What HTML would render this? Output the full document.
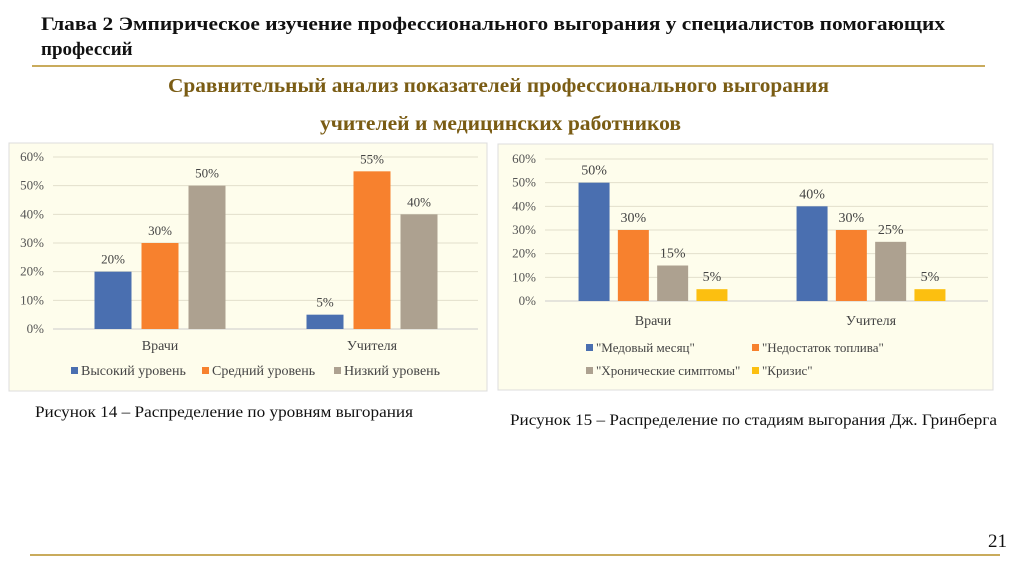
<!DOCTYPE html>
<html><head><meta charset="utf-8"><style>
html,body{margin:0;padding:0;background:#fff;}
svg{display:block;font-family:"Liberation Serif",serif;}
</style></head><body>
<svg id="s" width="1024" height="574" viewBox="0 0 1024 574" xmlns="http://www.w3.org/2000/svg">
<text x="41" y="30" font-size="19" font-weight="bold" fill="#111" textLength="904" lengthAdjust="spacingAndGlyphs">Глава 2 Эмпирическое изучение профессионального выгорания у специалистов помогающих</text>
<text x="41" y="55" font-size="19" font-weight="bold" fill="#111">профессий</text>
<rect x="32" y="65" width="953" height="2" fill="#c9ab5c"/>
<text x="168" y="92" font-size="20" font-weight="bold" fill="#7a5c14" textLength="661" lengthAdjust="spacingAndGlyphs">Сравнительный анализ показателей профессионального выгорания</text>
<text x="320" y="130" font-size="20" font-weight="bold" fill="#7a5c14" textLength="361" lengthAdjust="spacingAndGlyphs">учителей и медицинских работников</text>
<rect x="9" y="143" width="478" height="248" fill="#fefdec" stroke="#ddd"/>
<rect x="498" y="144" width="495" height="246" fill="#fefdec" stroke="#ddd"/>
<g id="c1"></g><g id="c2"></g>
<text x="35" y="417" font-size="16" fill="#111" textLength="378" lengthAdjust="spacingAndGlyphs">Рисунок 14 – Распределение по уровням выгорания</text>
<text x="510" y="425" font-size="16" fill="#111" textLength="487" lengthAdjust="spacingAndGlyphs">Рисунок 15 – Распределение по стадиям выгорания Дж. Гринберга</text>
<text x="1007" y="547" font-size="19" fill="#111" text-anchor="end">21</text>
<rect x="30" y="554" width="970" height="2" fill="#c9ab5c"/>
</svg>
<script>
const ticks = [0,10,20,30,40,50,60];
const cats1 = ["Врачи","Учителя"];
const series1Names = ["Высокий уровень","Средний уровень","Низкий уровень"];
const high1 = [20,5];
const mid1 = [30,55];
const low1 = [50,40];
const cats2 = ["Врачи","Учителя"];
const series2Names = ["\"Медовый месяц\"","\"Недостаток топлива\"","\"Хронические симптомы\"","\"Кризис\""];
const honey2 = [50,40];
const fuel2 = [30,30];
const chronic2 = [15,25];
const crisis2 = [5,5];
const colors = ["#4a6fb0","#f7812e","#ada190","#fcbf10"];
const NS="http://www.w3.org/2000/svg";
function mk(p,tag,a,txt){const e=document.createElementNS(NS,tag);for(const k in a)e.setAttribute(k,a[k]);if(txt!=null)e.textContent=txt;p.appendChild(e);return e;}
function chart(g,cfg,cats,series,names,pref){
  const y=v=>cfg.y0-(v/60)*(cfg.y0-cfg.y60);
  ticks.forEach(t=>{
    const l=mk(g,'line',{x1:cfg.gx0,x2:cfg.gx1,y1:y(t),y2:y(t),stroke:t===0?'#ccc':'#e2dfcc','stroke-width':1});
    
    
    const tx=mk(g,'text',{x:cfg.lx,y:y(t)+4,'font-size':cfg.tf,fill:'#555','text-anchor':'end'},t+'%');
    
    
  });
  cats.forEach((c,ci)=>{
    const cx=cfg.cx[ci];
    const n=series.length, total=n*cfg.bw+(n-1)*cfg.gap;
    series.forEach((s,si)=>{
      const x=cx-total/2+si*(cfg.bw+cfg.gap);
      const r=mk(g,'rect',{x:x,y:y(s[ci]),width:cfg.bw,height:y(0)-y(s[ci]),fill:colors[si]});
      
      
      const lb=mk(g,'text',{x:x+cfg.bw/2,y:y(s[ci])-8,'font-size':cfg.vf,fill:'#444','text-anchor':'middle'},s[ci]+'%');
      
      
    });
    const cl=mk(g,'text',{x:cx,y:cfg.catY,'font-size':14,fill:'#444','text-anchor':'middle'},c);
    
    
  });
  cfg.leg.forEach((p,i)=>{
    const m=mk(g,'rect',{x:p[0],y:p[1]-5,width:7,height:7,fill:colors[i]});
    
    
    const t=mk(g,'text',{x:p[0]+10,y:p[1]+3,'font-size':cfg.lf,fill:'#444'},names[i]);
    
    
  });
}
chart(document.getElementById('c1'),{y0:329,y60:157,gx0:53,gx1:478,lx:44,cx:[160,372],bw:37,gap:10,catY:350,tf:13,vf:13,lf:14,
  leg:[[71,372],[202,372],[334,372]]},cats1,[high1,mid1,low1],series1Names,'levels');
chart(document.getElementById('c2'),{y0:301,y60:159,gx0:545,gx1:988,lx:536,cx:[653,871],bw:31,gap:8.3,catY:325,tf:13,vf:14,lf:13,
  leg:[[586,349],[752,349],[586,372],[752,372]]},cats2,[honey2,fuel2,chronic2,crisis2],series2Names,'stages');
</script>
</body></html>
